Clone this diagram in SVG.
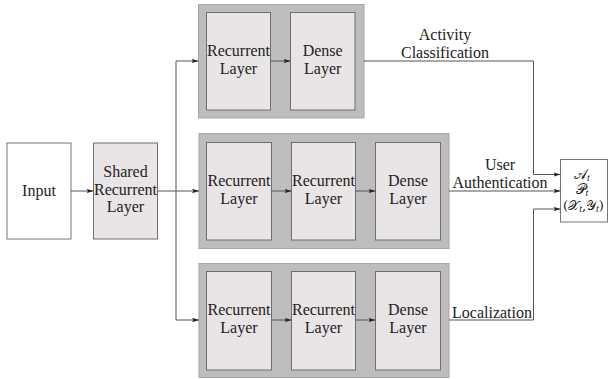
<svg xmlns="http://www.w3.org/2000/svg" width="608" height="379" viewBox="0 0 608 379">
<defs>
<marker id="ah" markerWidth="7" markerHeight="6" refX="7" refY="3" orient="auto" markerUnits="userSpaceOnUse">
<path d="M0,0.8 L7,3 L0,5.2 L1.5,3 Z" fill="#222"/>
</marker>
<style>
.t{font-family:"Liberation Serif","DejaVu Serif",serif;font-size:16px;fill:#222;text-anchor:middle}
.m{font-family:"DejaVu Serif","Liberation Serif",serif;font-size:14px;fill:#222;text-anchor:middle}
.m2{font-family:"DejaVu Serif","Liberation Serif",serif;font-size:13px;fill:#222;text-anchor:middle}
.s{font-family:"Liberation Serif",serif;font-size:10px;font-style:italic}
.outer{fill:#bdbdbd;stroke:#a5a5a5;stroke-width:1}
.inner{fill:#e9e4e6;stroke:#6f6f6f;stroke-width:1}
.plain{fill:#fff;stroke:#777;stroke-width:1}
.c{fill:none;stroke:#555;stroke-width:1}
.ca{fill:none;stroke:#555;stroke-width:1;marker-end:url(#ah)}
</style>
</defs>
<g id="input"><rect class="plain" x="7" y="143" width="64" height="96"/><text class="t" x="39" y="196">Input</text></g>
<g id="shared"><rect class="inner" x="93.5" y="143" width="64" height="96"/><text class="t" x="125.5" y="177">Shared</text><text class="t" x="125.5" y="194.5">Recurrent</text><text class="t" x="125.5" y="212">Layer</text></g>

<g id="branch-top">
<rect class="outer" x="198.5" y="4.5" width="165.5" height="113.5"/>
<g id="top-rec"><rect class="inner" x="206.5" y="12.5" width="64" height="97.5"/><text class="t" x="238.5" y="56">Recurrent</text><text class="t" x="238.5" y="73.5">Layer</text></g>
<g id="top-dense"><rect class="inner" x="290.5" y="12.5" width="64.5" height="97.5"/><text class="t" x="322.7" y="56">Dense</text><text class="t" x="322.7" y="73.5">Layer</text></g>
</g>

<g id="branch-mid">
<rect class="outer" x="199" y="133.5" width="250" height="115"/>
<g id="mid-rec1"><rect class="inner" x="206.5" y="142.5" width="65" height="97.5"/><text class="t" x="239" y="186">Recurrent</text><text class="t" x="239" y="203.5">Layer</text></g>
<g id="mid-rec2"><rect class="inner" x="291.5" y="142.5" width="64" height="97.5"/><text class="t" x="323.5" y="186">Recurrent</text><text class="t" x="323.5" y="203.5">Layer</text></g>
<g id="mid-dense"><rect class="inner" x="375.5" y="142.5" width="65" height="97.5"/><text class="t" x="408" y="186">Dense</text><text class="t" x="408" y="203.5">Layer</text></g>
</g>

<g id="branch-bot">
<rect class="outer" x="199" y="263.5" width="250" height="114"/>
<g id="bot-rec1"><rect class="inner" x="206.5" y="271.5" width="65" height="98.5"/><text class="t" x="239" y="315">Recurrent</text><text class="t" x="239" y="332.5">Layer</text></g>
<g id="bot-rec2"><rect class="inner" x="291.5" y="271.5" width="64" height="98.5"/><text class="t" x="323.5" y="315">Recurrent</text><text class="t" x="323.5" y="332.5">Layer</text></g>
<g id="bot-dense"><rect class="inner" x="375.5" y="271.5" width="65" height="98.5"/><text class="t" x="408" y="315">Dense</text><text class="t" x="408" y="332.5">Layer</text></g>
</g>

<g id="output"><rect class="plain" x="560.5" y="159.5" width="47" height="62.5"/>
<text class="m" x="582" y="179">𝒜<tspan class="s" dy="2">t</tspan></text>
<text class="m" x="582" y="194">𝒫<tspan class="s" dy="2">t</tspan></text>
<text class="m2" x="583.5" y="210">(𝒳<tspan class="s" dy="2">t</tspan><tspan dy="-2">,𝒴</tspan><tspan class="s" dy="2">t</tspan><tspan dy="-2">)</tspan></text>
</g>

<g id="connectors">
<path class="ca" d="M71,191 H93.5"/>
<path class="c" d="M157.5,191 H176"/>
<path class="c" d="M176,61 V320"/>
<path class="ca" d="M176,61 H198.5"/>
<path class="ca" d="M176,191 H199"/>
<path class="ca" d="M176,320 H199"/>
<path class="ca" d="M270.5,61 H290.5"/>
<path class="ca" d="M271.5,191 H291.5"/>
<path class="ca" d="M355.5,191 H375.5"/>
<path class="ca" d="M271.5,320 H291.5"/>
<path class="ca" d="M355.5,320 H375.5"/>
<path class="ca" d="M364,61 H533.5 V174.5 H560.5"/>
<path class="ca" d="M449,191 H560.5"/>
<path class="ca" d="M449,320 H533.5 V209 H560.5"/>
</g>
<g id="labels">
<text class="t" x="445" y="40">Activity</text>
<text class="t" x="445" y="57.5">Classification</text>
<text class="t" x="500" y="170">User</text>
<text class="t" x="500" y="188">Authentication</text>
<text class="t" x="492" y="318">Localization</text>
</g>
</svg>
